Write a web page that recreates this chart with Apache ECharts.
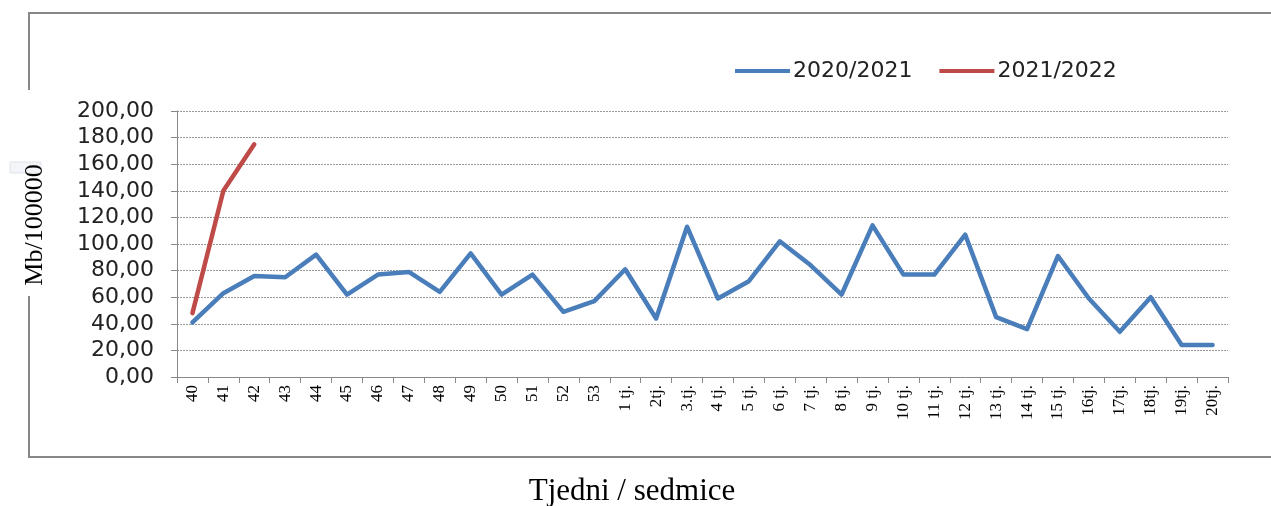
<!DOCTYPE html>
<html>
<head>
<meta charset="utf-8">
<script src="https://cdn.jsdelivr.net/npm/echarts@6/dist/echarts.min.js"></script>
<style>html,body{margin:0;padding:0;background:#fff}#c{width:1271px;height:506px}</style>
</head>
<body>
<div id="c"></div>
<script>
const categories = ['40','41','42','43','44','45','46','47','48','49','50','51','52','53',
  '1 tj.','2tj.','3.tj.','4 tj.','5 tj.','6 tj.','7 tj.','8 tj.','9 tj.','10 tj.','11 tj.','12 tj.','13 tj.','14 tj.','15 tj.','16tj.','17tj.','18tj.','19tj.','20tj.'];
const season2020 = [41,63,76,75,92,62,77,79,64,93,62,77,49,57,81,44,113,59,72,102,84,62,114,77,77,107,45,36,91,59,34,60,24,24];
const season2021 = [48,140,175];
const seriesNames = ['2020/2021','2021/2022'];
const yTicks = {min:0, max:200, interval:20};
const xTitle = 'Tjedni / sedmice';
const yTitle = 'Mb/100000';

const chart = echarts.init(document.getElementById('c'));
const border = {stroke:'#878787', lineWidth:2};
chart.setOption({
  animation:false,
  backgroundColor:'#fff',
  graphic:[
    {type:'line', shape:{x1:29,y1:13,x2:1271,y2:13}, style:border},
    {type:'line', shape:{x1:29,y1:457,x2:1271,y2:457}, style:border},
    {type:'line', shape:{x1:29,y1:12,x2:29,y2:90}, style:border},
    {type:'line', shape:{x1:29,y1:296,x2:29,y2:458}, style:border},
    {type:'rect', shape:{x:10,y:162,width:31,height:11}, style:{fill:'#f3f5f9', stroke:'#dfe3ea', lineWidth:1}},
    {type:'text', x:632, y:492, style:{text:xTitle, fontFamily:'Liberation Serif', fontSize:31, fill:'#000', align:'center', verticalAlign:'middle'}},
    {type:'text', x:35, y:225, rotation:Math.PI/2, style:{text:yTitle, fontFamily:'Liberation Serif', fontSize:26, fill:'#000', align:'center', verticalAlign:'middle'}}
  ],
  legend:{
    data:seriesNames, left:735, top:60, padding:0, icon:'rect', itemWidth:55, itemHeight:4, itemGap:27,
    textStyle:{fontFamily:'DejaVu Sans', fontSize:22, color:'#222', padding:[0,0,0,-2]}
  },
  grid:{left:177, right:43, top:111, bottom:129, containLabel:false, outerBoundsMode:'none'},
  xAxis:{
    type:'category', data:categories, boundaryGap:true,
    axisLine:{lineStyle:{color:'#888', width:1}},
    axisTick:{show:true, length:6, alignWithLabel:false, lineStyle:{color:'#888'}},
    axisLabel:{rotate:90, interval:0, margin:8, fontFamily:'Liberation Serif', fontSize:17, color:'#000'},
    splitLine:{show:false}
  },
  yAxis:{
    type:'value', min:yTicks.min, max:yTicks.max, interval:yTicks.interval,
    axisLine:{show:true, lineStyle:{color:'#888', width:1}},
    axisTick:{show:true, length:6, lineStyle:{color:'#888'}},
    axisLabel:{margin:23, fontFamily:'DejaVu Sans', fontSize:22, color:'#222',
      formatter:v=>v.toFixed(2).replace('.',',')},
    splitLine:{show:true, lineStyle:{color:'#999', type:[2,1], width:1}}
  },
  series:[
    {name:seriesNames[0], type:'line', data:season2020, symbol:'none', color:'#4a7ebb',
      lineStyle:{width:4.5, color:'#4a7ebb', cap:'round', join:'round'}},
    {name:seriesNames[1], type:'line', data:season2021, symbol:'none', color:'#be4b48',
      lineStyle:{width:4.5, color:'#be4b48', cap:'round', join:'round'}}
  ]
});
</script>
</body>
</html>
